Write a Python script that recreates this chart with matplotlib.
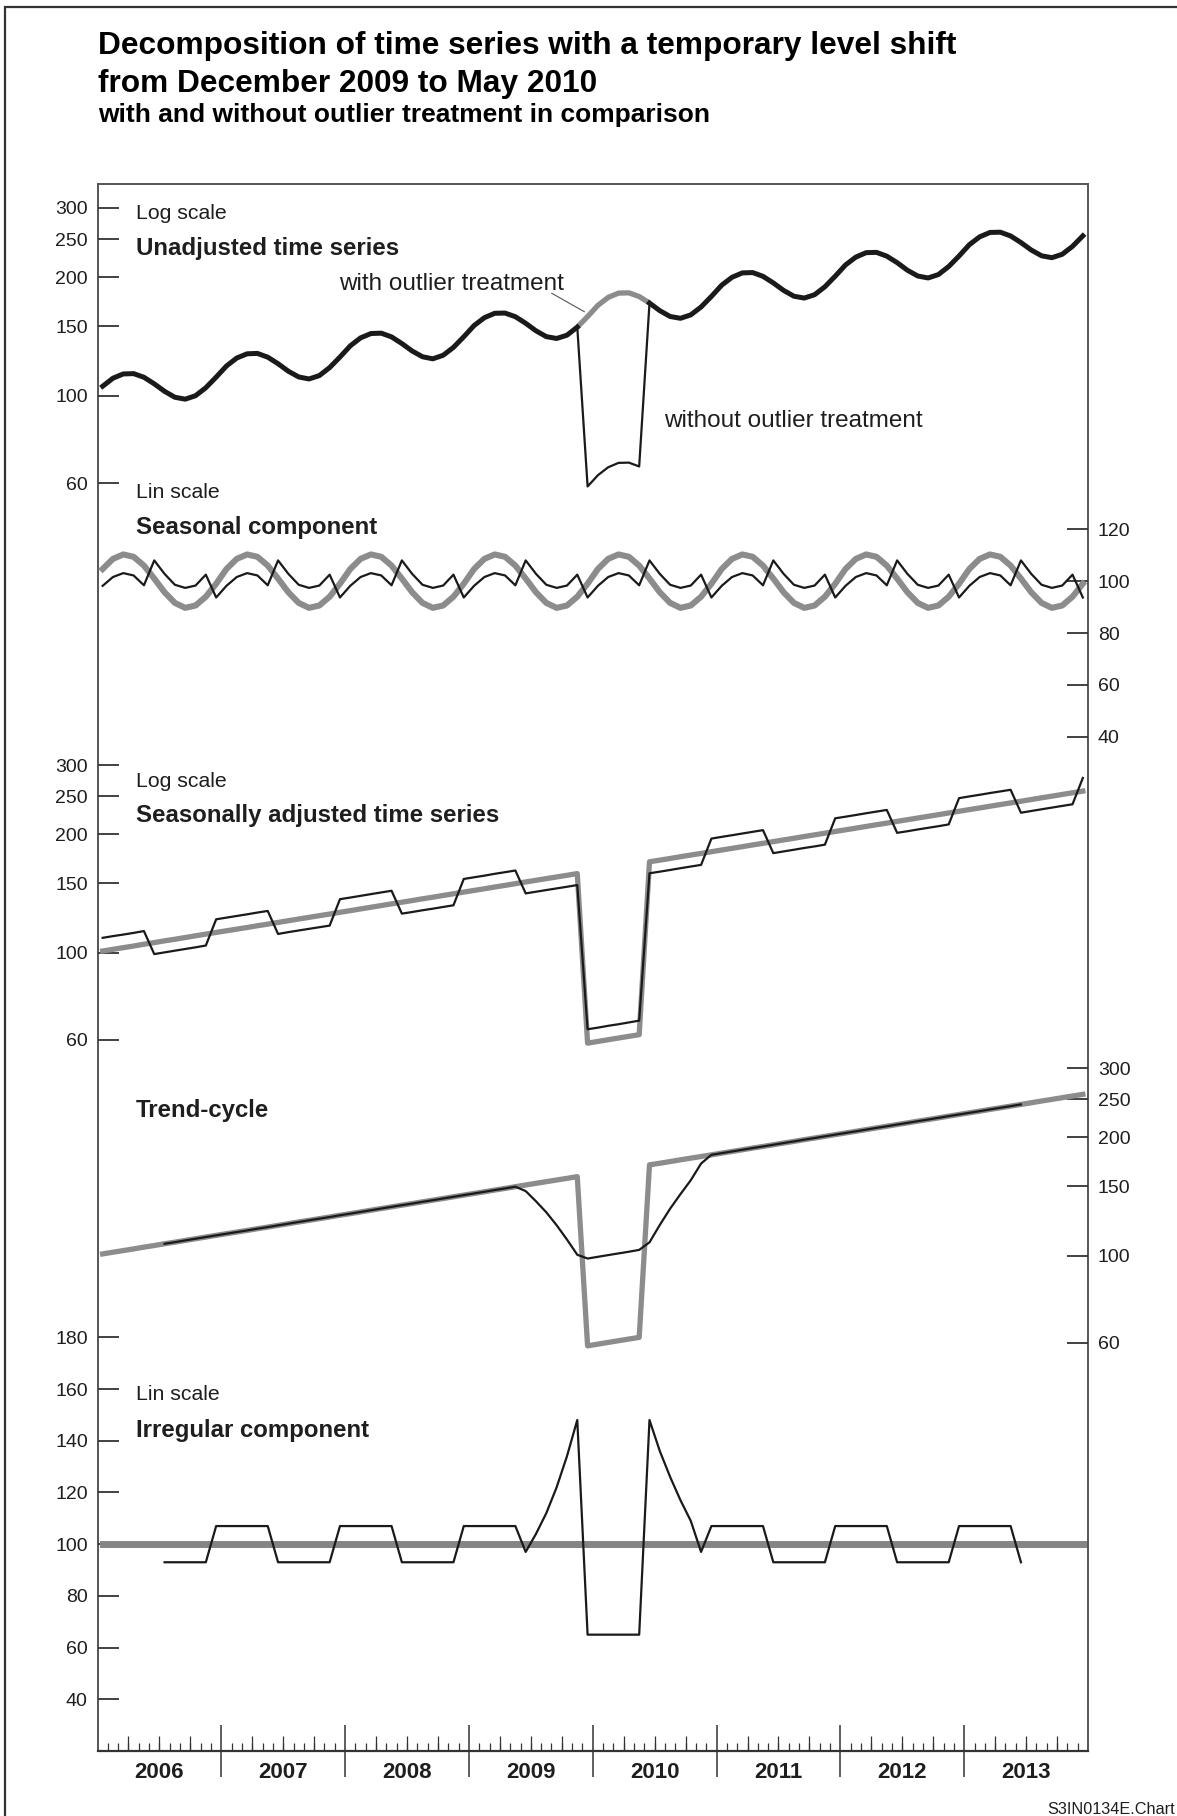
import numpy as np
import matplotlib
matplotlib.use("Agg")
import matplotlib.pyplot as plt
from matplotlib.patches import Rectangle
from matplotlib.lines import Line2D
from matplotlib.ticker import NullLocator

plt.rcParams['font.family'] = ['Liberation Sans', 'DejaVu Sans']

# ---- data: monthly values, Jan 2006 - Dec 2013 ----
years = ['2006', '2007', '2008', '2009', '2010', '2011', '2012', '2013']

# unadjusted series, with outlier treatment
unadjusted = [
    105.7, 110.8, 113.6, 113.8, 111.4, 107.2, 102.6, 99.1, 98.0, 100.0, 104.8, 111.5,
    119.0, 124.7, 127.8, 128.1, 125.3, 120.6, 115.4, 111.6, 110.3, 112.5, 117.9, 125.4,
    133.9, 140.3, 143.9, 144.2, 141.1, 135.7, 129.9, 125.6, 124.1, 126.7, 132.7, 141.2,
    150.8, 157.9, 162.0, 162.2, 158.8, 152.8, 146.2, 141.3, 139.8, 142.5, 149.4, 158.9,
    169.7, 177.8, 182.3, 182.6, 178.7, 172.0, 164.5, 159.0, 157.3, 160.5, 168.1, 178.8,
    191.0, 200.0, 205.2, 205.6, 201.1, 193.5, 185.2, 179.0, 177.1, 180.6, 189.2, 201.3,
    215.0, 225.1, 231.0, 231.4, 226.3, 217.9, 208.4, 201.5, 199.2, 203.2, 213.0, 226.5,
    242.0, 253.4, 260.0, 260.4, 254.7, 245.1, 234.6, 226.8, 224.3, 228.8, 239.7, 254.9]
# unadjusted without outlier treatment, Nov 2009 - Jun 2010
unadjusted_raw = [149.4, 58.8, 62.8, 65.8, 67.5, 67.6, 66.1, 172.0]

seasonal = [
    104.7, 108.6, 110.3, 109.4, 106.0, 101.0, 95.7, 91.6, 89.7, 90.6, 94.0, 99.0,
    104.7, 108.6, 110.3, 109.4, 106.0, 101.0, 95.7, 91.6, 89.7, 90.6, 94.0, 99.0,
    104.7, 108.6, 110.3, 109.4, 106.0, 101.0, 95.7, 91.6, 89.7, 90.6, 94.0, 99.0,
    104.7, 108.6, 110.3, 109.4, 106.0, 101.0, 95.7, 91.6, 89.7, 90.6, 94.0, 99.0,
    104.7, 108.6, 110.3, 109.4, 106.0, 101.0, 95.7, 91.6, 89.7, 90.6, 94.0, 99.0,
    104.7, 108.6, 110.3, 109.4, 106.0, 101.0, 95.7, 91.6, 89.7, 90.6, 94.0, 99.0,
    104.7, 108.6, 110.3, 109.4, 106.0, 101.0, 95.7, 91.6, 89.7, 90.6, 94.0, 99.0,
    104.7, 108.6, 110.3, 109.4, 106.0, 101.0, 95.7, 91.6, 89.7, 90.6, 94.0, 99.0]
seasonal_raw = [
    98.2, 101.6, 103.1, 102.2, 98.4, 108.0, 102.8, 98.6, 97.4, 98.3, 102.5, 93.7,
    98.2, 101.6, 103.1, 102.2, 98.4, 108.0, 102.8, 98.6, 97.4, 98.3, 102.5, 93.7,
    98.2, 101.6, 103.1, 102.2, 98.4, 108.0, 102.8, 98.6, 97.4, 98.3, 102.5, 93.7,
    98.2, 101.6, 103.1, 102.2, 98.4, 108.0, 102.8, 98.6, 97.4, 98.3, 102.5, 93.7,
    98.2, 101.6, 103.1, 102.2, 98.4, 108.0, 102.8, 98.6, 97.4, 98.3, 102.5, 93.7,
    98.2, 101.6, 103.1, 102.2, 98.4, 108.0, 102.8, 98.6, 97.4, 98.3, 102.5, 93.7,
    98.2, 101.6, 103.1, 102.2, 98.4, 108.0, 102.8, 98.6, 97.4, 98.3, 102.5, 93.7,
    98.2, 101.6, 103.1, 102.2, 98.4, 108.0, 102.8, 98.6, 97.4, 98.3, 102.5, 93.7]

# seasonally adjusted = trend-cycle with outlier treatment
trend = [
    101.0, 102.0, 103.0, 104.0, 105.1, 106.1, 107.2, 108.2, 109.3, 110.4, 111.5, 112.6,
    113.7, 114.8, 115.9, 117.1, 118.2, 119.4, 120.6, 121.8, 123.0, 124.2, 125.4, 126.7,
    127.9, 129.2, 130.5, 131.8, 133.1, 134.4, 135.7, 137.1, 138.4, 139.8, 141.2, 142.6,
    144.0, 145.4, 146.9, 148.3, 149.8, 151.3, 152.8, 154.3, 155.8, 157.3, 158.9, 58.9,
    59.5, 60.1, 60.7, 61.3, 61.9, 170.3, 171.9, 173.6, 175.4, 177.1, 178.8, 180.6,
    182.4, 184.2, 186.0, 187.9, 189.7, 191.6, 193.5, 195.4, 197.4, 199.3, 201.3, 203.3,
    205.3, 207.3, 209.4, 211.5, 213.5, 215.7, 217.8, 220.0, 222.1, 224.3, 226.6, 228.8,
    231.1, 233.3, 235.7, 238.0, 240.3, 242.7, 245.1, 247.6, 250.0, 252.5, 255.0, 257.5]
sa_raw = [
    109.1, 110.2, 111.2, 112.3, 113.5, 99.2, 100.2, 101.2, 102.2, 103.2, 104.3, 121.6,
    122.8, 124.0, 125.2, 126.5, 127.7, 111.6, 112.8, 113.9, 115.0, 116.1, 117.2, 136.8,
    138.1, 139.5, 140.9, 142.3, 143.7, 125.7, 126.9, 128.2, 129.4, 130.7, 132.0, 154.0,
    155.5, 157.0, 158.7, 160.2, 161.8, 141.5, 142.9, 144.3, 145.7, 147.1, 148.6, 63.9,
    64.5, 65.2, 65.8, 66.5, 67.2, 159.2, 160.7, 162.3, 164.0, 165.6, 167.2, 195.0,
    197.0, 198.9, 200.9, 202.9, 204.9, 179.1, 180.9, 182.7, 184.6, 186.3, 188.2, 219.6,
    221.7, 223.9, 226.2, 228.4, 230.6, 201.7, 203.6, 205.7, 207.7, 209.7, 211.9, 247.1,
    249.6, 252.0, 254.6, 257.0, 259.5, 226.9, 229.2, 231.5, 233.8, 236.1, 238.4, 278.1]

# trend-cycle without outlier treatment, Jul 2006 - Jun 2013
trend_raw = [
    107.2, 108.2, 109.3, 110.4, 111.5, 112.6,
    113.7, 114.8, 115.9, 117.1, 118.2, 119.4, 120.6, 121.8, 123.0, 124.2, 125.4, 126.7,
    127.9, 129.2, 130.5, 131.8, 133.1, 134.4, 135.7, 137.1, 138.4, 139.8, 141.2, 142.6,
    144.0, 145.4, 146.9, 148.3, 149.8, 146.0, 137.5, 128.9, 119.5, 109.9, 100.5, 98.3,
    99.3, 100.3, 101.3, 102.3, 103.4, 108.1, 119.7, 131.7, 143.4, 155.6, 171.6, 180.6,
    182.4, 184.2, 186.0, 187.9, 189.7, 191.6, 193.5, 195.4, 197.4, 199.3, 201.3, 203.3,
    205.3, 207.3, 209.4, 211.5, 213.5, 215.7, 217.8, 220.0, 222.1, 224.3, 226.6, 228.8,
    231.1, 233.3, 235.7, 238.0, 240.3, 242.7]

irregular = [
    100, 100, 100, 100, 100, 100, 100, 100, 100, 100, 100, 100,
    100, 100, 100, 100, 100, 100, 100, 100, 100, 100, 100, 100,
    100, 100, 100, 100, 100, 100, 100, 100, 100, 100, 100, 100,
    100, 100, 100, 100, 100, 100, 100, 100, 100, 100, 100, 100,
    100, 100, 100, 100, 100, 100, 100, 100, 100, 100, 100, 100,
    100, 100, 100, 100, 100, 100, 100, 100, 100, 100, 100, 100,
    100, 100, 100, 100, 100, 100, 100, 100, 100, 100, 100, 100,
    100, 100, 100, 100, 100, 100, 100, 100, 100, 100, 100, 100]
# irregular without outlier treatment, Jul 2006 - Jun 2013
irregular_raw = [
    93, 93, 93, 93, 93, 107,
    107, 107, 107, 107, 107, 93, 93, 93, 93, 93, 93, 107,
    107, 107, 107, 107, 107, 93, 93, 93, 93, 93, 93, 107,
    107, 107, 107, 107, 107, 97, 104, 112, 122, 134, 148, 65,
    65, 65, 65, 65, 65, 148, 136, 126, 117, 109, 97, 107,
    107, 107, 107, 107, 107, 93, 93, 93, 93, 93, 93, 107,
    107, 107, 107, 107, 107, 93, 93, 93, 93, 93, 93, 107,
    107, 107, 107, 107, 107, 93]

# ---- layout (pixels) ----
W, H = 1177, 1816
BOX_L, BOX_R, BOX_T, BOX_B = 97.5, 1088, 184, 1751
BLACK = '#1a1a1a'
GRAY = '#8c8c8c'
TXT = '#1e1e1e'

months = np.arange(96) + 0.5
m_raw = months[6:90]

fig = plt.figure(figsize=(W / 100, H / 100), dpi=100)
fig.patch.set_facecolor('white')


def frac(top, bottom):
    return [BOX_L / W, 1 - bottom / H, (BOX_R - BOX_L) / W, (bottom - top) / H]


def ftext(x, y, s, **kw):
    kw.setdefault('color', TXT)
    kw.setdefault('va', 'baseline')
    fig.text(x / W, 1 - y / H, s, **kw)


# outer frame
fig.add_artist(Rectangle((5 / W, -0.05), 1.2, 1 - 7 / H + 0.05, transform=fig.transFigure,
                         fill=False, lw=1.6, ec='#333333'))

# main box with time axis
ax = fig.add_axes(frac(BOX_T, BOX_B))
ax.set_xlim(0, 96)
ax.set_ylim(0, 1)
ax.set_yticks([])
for s in ax.spines.values():
    s.set_color('#555555')
    s.set_linewidth(1.4)
ax.spines['bottom'].set_color('#333333')
ax.spines['bottom'].set_linewidth(1.6)
ax.set_xticks(range(12, 96, 12))
ax.set_xticklabels([])
ax.set_xticks([m for m in range(1, 96) if m % 12], minor=True)
ax.tick_params(axis='x', which='major', direction='inout', length=38, width=1.1, color='#333333')
ax.tick_params(axis='x', which='minor', direction='in', length=5.8, width=0.9, color='#333333')
sec = ax.secondary_xaxis('bottom')
sec.set_xticks([m for m in range(3, 96, 3) if m % 12])
sec.tick_params(direction='in', length=10.8, width=0.9, color='#333333', labelbottom=False)
sec.spines['bottom'].set_visible(False)
for i, y in enumerate(years):
    ax.annotate(y, xy=(12 * i + 6, 0), xycoords=('data', 'axes fraction'),
                xytext=(0, -(1778.3 - BOX_B) * 0.72), textcoords='offset points',
                ha='center', va='baseline', fontsize=16, fontweight='bold', color=TXT)


def panel(top, bottom, lo, hi, ticks, side, log):
    p = fig.add_axes(frac(top, bottom))
    p.patch.set_visible(False)
    for s in p.spines.values():
        s.set_visible(False)
    p.set_xlim(0, 96)
    p.set_xticks([])
    if log:
        p.set_yscale('log')
    p.set_ylim(lo, hi)
    p.set_yticks(ticks, labels=[str(t) for t in ticks])
    p.yaxis.set_minor_locator(NullLocator())
    left = side == 'left'
    p.tick_params(axis='y', direction='in', length=15, width=1.3, color='#333333',
                  labelsize=14, labelcolor=TXT, pad=7,
                  left=left, labelleft=left, right=not left, labelright=not left)
    return p


# panel 1: unadjusted
p1 = panel(208, 483, 60, 300, [60, 100, 150, 200, 250, 300], 'left', True)
p1.plot(months[46:54], unadjusted[46:54], color=GRAY, lw=3.8, clip_on=False, solid_capstyle='butt')
p1.plot(months[:47], unadjusted[:47], color=BLACK, lw=3.6, clip_on=False, solid_joinstyle='round')
p1.plot(months[53:], unadjusted[53:], color=BLACK, lw=3.6, clip_on=False, solid_joinstyle='round')
p1.plot(months[46:54], unadjusted_raw, color=BLACK, lw=1.6, clip_on=False)

# panel 2: seasonal component
p2 = panel(529.3, 736.7, 40, 120, [40, 60, 80, 100, 120], 'right', False)
p2.plot(months, seasonal, color=GRAY, lw=4.4, clip_on=False, solid_joinstyle='round')
p2.plot(months, seasonal_raw, color=BLACK, lw=1.6, clip_on=False)

# panel 3: seasonally adjusted
p3 = panel(765, 1040, 60, 300, [60, 100, 150, 200, 250, 300], 'left', True)
p3.plot(months, trend, color=GRAY, lw=3.8, clip_on=False)
p3.plot(months, sa_raw, color=BLACK, lw=1.6, clip_on=False)

# panel 4: trend-cycle
p4 = panel(1068.3, 1342.7, 60, 300, [60, 100, 150, 200, 250, 300], 'right', True)
p4.plot(months, trend, color=GRAY, lw=3.8, clip_on=False)
p4.plot(m_raw, trend_raw, color=BLACK, lw=1.6, clip_on=False)

# panel 5: irregular component
p5 = panel(1337.3, 1699.3, 40, 180, [40, 60, 80, 100, 120, 140, 160, 180], 'left', False)
p5.plot(months, irregular, color='#858585', lw=5.0, clip_on=False)
p5.plot(m_raw, irregular_raw, color=BLACK, lw=1.6, clip_on=False)

# labels
ftext(135.8, 219.3, 'Log scale', fontsize=15.3)
ftext(135.8, 255, 'Unadjusted time series', fontsize=17.3, fontweight='bold')
ftext(339.4, 290, 'with outlier treatment', fontsize=17.5)
ftext(664.5, 426.7, 'without outlier treatment', fontsize=17.5)
fig.add_artist(Line2D([551.8 / W, 584.3 / W], [1 - 293.3 / H, 1 - 311.7 / H],
                      transform=fig.transFigure, color='#555555', lw=0.8))
ftext(135.8, 498.3, 'Lin scale', fontsize=15.3)
ftext(135.8, 534, 'Seasonal component', fontsize=17.3, fontweight='bold')
ftext(135.8, 786.7, 'Log scale', fontsize=15.3)
ftext(135.8, 821.7, 'Seasonally adjusted time series', fontsize=17.3, fontweight='bold')
ftext(135.8, 1116.7, 'Trend-cycle', fontsize=17.3, fontweight='bold')
ftext(135.8, 1400, 'Lin scale', fontsize=15.3)
ftext(135.8, 1436.7, 'Irregular component', fontsize=17.3, fontweight='bold')

# title
ftext(97.6, 54, 'Decomposition of time series with a temporary level shift',
      fontsize=22.8, fontweight='bold', color='black')
ftext(97.6, 91.7, 'from December 2009 to May 2010', fontsize=22.8, fontweight='bold', color='black')
ftext(97.6, 121.7, 'with and without outlier treatment in comparison',
      fontsize=19, fontweight='bold', color='black')
ftext(1175, 1814, 'S3IN0134E.Chart', fontsize=11.7, ha='right')

fig.savefig('out.png', dpi=100, facecolor='white')
